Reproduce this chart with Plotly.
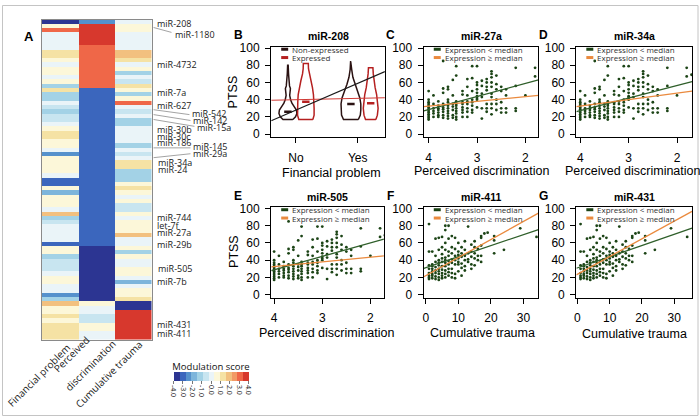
import plotly.graph_objects as go

W, H = 700, 420
def X(p): return p / W
def Y(p): return 1 - p / H

# ---------------- Heatmap (panel A) data: modulation scores, 75 miRNA rows ----------------
fin_problem = [-4, 0.5, 3.2, -0.2, -0.2, -0.2, -0.2, 1.3, 1.3, 0.5,
               -0.2, 0.5, 0.5, -0.2, 0.5, -1.5, 1.0, -1.3, -1.3, -0.2,
               -0.8, -1.5, -0.8, -0.7, -0.2, 0.5, 1.2, 1.2, 0.5, 0.5,
               -0.2, -2.3, 0.5, 0.5, 0.5, 0.5, -0.2, -3.0, -3.0, 0.5,
               -2.0, 0.5, 0.5, 0.5, -0.2, 1.8, -1.2, -0.8, -0.2, -0.2,
               -0.2, -0.2, -3.0, 0.5, 0.5, -1.2, -0.8, -0.8, -0.8, -0.2,
               0.5, 0.5, -0.2, -0.2, -2.5, -1.2, 1.8, 0.5, 0.5, 1.0,
               0.5, 1.0, 1.2, 1.2, 1.2]
perceived_disc = ([-2.2] + [3.8] * 5 + [3.2] * 10 + [-3.0] * 37 + [-4.0] * 13 +
                  [0.5, -0.2, -0.2, -0.8, -0.8, 0.5, 0.5, -0.2, -0.2])
cumulative_trauma = [-0.2, 0.5, 0.5, -0.2, -0.2, -0.2, -0.2, 1.8, 1.8, 1.0,
                     -0.2, 0.5, -1.0, -0.2, -0.8, 1.0, 0.5, -1.0, 0.5, 3.2,
                     -0.2, -0.8, -0.2, -1.2, -1.3, -0.2, -0.2, -0.2, -0.2, -1.0,
                     -0.2, -0.8, -0.2, 1.2, 1.2, -1.0, -1.3, -1.3, 0.5, 1.0,
                     0.5, -0.2, 0.5, -0.8, -0.8, 0.5, -0.2, 0.5, 0.5, 0.5,
                     1.8, -0.2, -0.2, 0.5, -1.0, 0.5, -0.2, -0.2, 0.5, 0.5,
                     -0.2, -1.8, -0.2, 0.5, 0.5, 1.0, -4, -4, 3.8, 3.8,
                     3.8, 3.8, 3.8, 3.8, 3.8]
hm_columns = ["Financial problem", "Perceived discrimination", "Cumulative trauma"]
cbar_ticks = [-4, -3, -2, -1, 0, 1, 2, 3, 4]

mir_labels = ["miR-208", "miR-1180", "miR-4732", "miR-7a", "miR-627", "miR-542", "miR-142",
              "miR-15a", "miR-30b", "miR-30c", "miR-186", "miR-145", "miR-29a", "miR-34a",
              "miR-24", "miR-744", "let-7f", "miR-27a", "miR-29b", "miR-505", "miR-7b",
              "miR-431", "miR-411"]

# ---------------- Panel B: violins (PTSS by financial problem) ----------------
fin_cats = ["No", "Yes"]
viol_groups = ["Non-expressed", "Expressed", "Non-expressed", "Expressed"]
viol_pos = [0.87, 1.16, 1.89, 2.21]
viol_levels = [
    [17, 20, 24, 28, 32, 36, 40, 45, 50, 53, 56, 62, 70, 80],
    [17, 22, 30, 38, 46, 54, 62, 70, 76, 82],
    [17, 22, 28, 35, 42, 50, 58, 66, 75, 85],
    [17, 22, 30, 38, 46, 54, 62, 70, 77],
]
viol_density = [
    [0.55, 0.85, 1.0, 0.95, 0.7, 0.45, 0.3, 0.2, 0.25, 0.28, 0.18, 0.1, 0.07, 0.03],
    [0.85, 1.0, 1.0, 0.97, 0.92, 0.8, 0.6, 0.4, 0.32, 0.3],
    [0.75, 0.95, 1.0, 1.0, 0.9, 0.65, 0.4, 0.2, 0.08, 0.03],
    [0.7, 0.9, 1.0, 0.95, 0.8, 0.6, 0.45, 0.35, 0.3],
]
viol_halfwidth = [0.145, 0.134, 0.16, 0.12]
viol_median = [26, 37.5, 35, 36]
fitB = {"Non-expressed": (-3.0, 31.0), "Expressed": (38.5, 1.5)}

# ---------------- Panels C, D, E: PTSS vs perceived discrimination ----------------
pd_levels = [4.0, 3.9, 3.8, 3.7, 3.6, 3.5, 3.43, 3.3, 3.2, 3.1, 3.0, 2.9, 2.8, 2.7,
             2.6, 2.5, 2.4, 2.2, 2.0, 1.8, 1.7]
pd_ptss = [
    [50, 40, 37, 35, 33, 31, 29, 27, 25, 23, 21, 19, 17],
    [45, 35, 30, 27, 24, 20],
    [38, 33, 30, 28, 25, 22, 20],
    [85, 53, 48, 35, 31, 29, 26, 22, 19],
    [55, 52, 40, 37, 33, 30, 27, 24, 21, 18],
    [63, 45, 35, 32, 28, 22, 19],
    [79, 68, 38, 35, 33, 30, 27, 24, 20, 17],
    [50, 46, 37, 35, 31, 28, 25, 20],
    [64, 55, 45, 38, 35, 30, 26, 20],
    [79, 65, 50, 40, 37, 33, 28, 25],
    [79, 60, 57, 52, 48, 44, 42, 40, 31],
    [62, 56, 47, 43, 30, 18],
    [64, 60, 55, 51, 35, 30, 26],
    [73, 70, 66, 60, 55, 47, 43, 35, 30, 23],
    [68, 58, 52, 40, 35, 28],
    [55, 50, 37, 30, 25],
    [52, 45, 30, 25],
    [77, 56, 30, 27],
    [45],
    [67, 77],
    [69],
]
# ---------------- Panels F, G: PTSS vs cumulative trauma ----------------
ct_levels = [1, 2, 3, 4, 5, 6, 7, 8, 9, 10, 11, 12, 13, 14, 15, 16, 17, 18, 19, 21, 24, 29, 34]
ct_ptss = [
    [82, 50, 34, 30, 25, 22, 20, 18],
    [50, 35, 33, 30, 27, 24, 22, 19],
    [65, 45, 38, 32, 28, 25, 21, 18],
    [66, 52, 40, 37, 34, 30, 27, 24, 20, 17],
    [67, 55, 47, 42, 38, 33, 29, 25, 22, 19],
    [80, 75, 60, 52, 43, 40, 37, 33, 28, 24, 20],
    [80, 65, 50, 45, 39, 35, 30, 26, 22],
    [68, 55, 48, 41, 37, 30, 25, 20],
    [66, 53, 45, 40, 35, 24, 19],
    [60, 50, 46, 42, 38, 35, 27],
    [55, 48, 44, 36, 31, 22],
    [62, 52, 45, 40, 33, 28],
    [79, 48, 41, 38],
    [58, 50, 44, 35, 30],
    [62, 55, 48, 42, 34],
    [53, 45, 40],
    [68, 66, 57, 45, 38],
    [71],
    [72],
    [68, 63, 48],
    [52],
    [77],
    [67],
]
# regression fits (intercept, slope) for expression < median / >= median
fits = {
    "C": ((89.3, -15.2), (54.5, -5.5)),
    "D": ((85.6, -14.6), (62.6, -7.5)),
    "E": ((91.5, -15.7), (54.2, -5.4)),
    "F": ((31.3, 1.28), (22.0, 2.10)),
    "G": ((31.0, 1.30), (23.6, 2.06)),
}
panel_titles = {"B": "miR-208", "C": "miR-27a", "D": "miR-34a", "E": "miR-505", "F": "miR-411", "G": "miR-431"}

# ---------------- style ----------------
hm_colors = ["#2c3592", "#3b66bd", "#5591cc", "#7db5db", "#a3d2e6", "#c8e5f0", "#eaf4f8",
             "#fcf7d9", "#f5e2a4", "#f2c07f", "#f29a66", "#ef6748", "#d7382d"]
colorscale = []
nb = len(hm_colors)
for i, c in enumerate(hm_colors):
    colorscale.append([i / nb, c])
    colorscale.append([(i + 1) / nb, c])

GREEN_PT = "#1c4416"
GREEN_LN = "#2f5f2a"
ORANGE = "#ea8a3e"
NE_COL = "#2a1212"
EX_COL = "#b52020"
TICKFONT = dict(family="Liberation Sans, Arial", size=12, color="black")

geom = {
    "B": (270, 384, 42.7, 135), "C": (423, 538, 42.7, 135), "D": (576, 692, 42.7, 135),
    "E": (270, 383, 206.7, 299), "F": (423, 538, 206.7, 299), "G": (576, 692, 206.7, 299),
}
xranges = {"B": [0.6, 2.44], "C": [4.1, 1.73], "D": [4.08, 1.69], "E": [4.06, 1.72],
           "F": [-0.6, 34.6], "G": [-0.3, 35.5]}

fig = go.Figure()
layout = dict(width=W, height=H, margin=dict(l=0, r=0, t=0, b=0),
              paper_bgcolor="white", plot_bgcolor="white", showlegend=False)

# ---- heatmap
z = [[fin_problem[i], perceived_disc[i], cumulative_trauma[i]] for i in range(len(fin_problem))]
fig.add_trace(go.Heatmap(
    z=z, x=[0, 1, 2], y=list(range(len(fin_problem))), zmin=-4, zmax=4,
    colorscale=colorscale, xaxis="x", yaxis="y", hoverinfo="skip",
    colorbar=dict(orientation="h", x=X(172), xanchor="left", y=Y(362), yanchor="top",
                  lenmode="pixels", len=75, thicknessmode="pixels", thickness=9,
                  title=dict(text="Modulation score", side="top",
                             font=dict(family="Open Sans", size=9.5, color="#111")),
                  tickvals=cbar_ticks, ticktext=[f"{t:.1f}" for t in cbar_ticks],
                  tickangle=90, ticks="outside", ticklen=3, tickcolor="#777",
                  tickfont=dict(family="Open Sans", size=7, color="#222"),
                  outlinewidth=0, xpad=0, ypad=0)))
layout["xaxis"] = dict(domain=[X(40), X(150)], range=[-0.5, 2.5], showticklabels=False,
                       ticks="", showgrid=False, zeroline=False, showline=True, mirror=True,
                       linecolor="#8a8a8a", linewidth=1, anchor="y")
layout["yaxis"] = dict(domain=[Y(342), Y(15)], range=[len(fin_problem) - 0.5, -0.5],
                       showticklabels=False, ticks="", showgrid=False, zeroline=False,
                       showline=True, mirror=True, linecolor="#8a8a8a", linewidth=1, anchor="x")

ann = []
shapes = []
LBL = dict(family="Open Sans", size=9, color="#1a1a1a")
label_pos = [(153, 19), (171, 30), (153, 61), (153, 89), (153, 103), (189, 111), (190, 118),
             (194, 125), (153, 127), (153, 134), (153, 141), (190, 145), (190, 152), (154, 161),
             (154, 168), (153, 217), (153, 225), (153, 232), (153, 245), (154, 269), (153, 283),
             (153, 327), (153, 336)]
for t, (lx, ly) in zip(mir_labels, label_pos):
    ann.append(dict(text=t, x=X(lx), y=Y(ly), xref="paper", yref="paper", showarrow=False,
                    xanchor="left", yanchor="middle", font=LBL))
for (x0, y0, x1, y1) in [(152, 23, 170, 28), (152, 107, 188, 112), (152, 112, 189, 118),
                         (152, 117, 193, 124), (152, 146, 189, 146), (152, 156, 189, 152)]:
    shapes.append(dict(type="line", xref="paper", yref="paper", x0=X(x0), y0=Y(y0), x1=X(x1), y1=Y(y1),
                       line=dict(color="#8c8c8c", width=0.8)))
COLF = dict(family="Open Sans", size=10, color="#1a1a1a")
for t, (cx, cy) in [("Financial problem", (37, 378)), ("Perceived", (70, 357)),
                    ("discrimination", (89, 368)), ("Cumulative trauma", (107, 377))]:
    ann.append(dict(text=t, x=X(cx), y=Y(cy), xref="paper", yref="paper", showarrow=False,
                    textangle=-45, xanchor="center", yanchor="middle", font=COLF))
ann.append(dict(text="<b>A</b>", x=X(27), y=Y(32), xref="paper", yref="paper", showarrow=False,
                xanchor="center", yanchor="middle",
                font=dict(family="Liberation Sans, Arial", size=13, color="black")))

# ---- panels
keys = ["B", "C", "D", "E", "F", "G"]
for i, k in enumerate(keys):
    n = i + 2
    x0, x1, y0, y1 = geom[k]
    ax = dict(domain=[X(x0), X(x1)], range=xranges[k], showgrid=False, zeroline=False,
              showline=True, mirror=True, linecolor="black", linewidth=1.4,
              ticks="outside", ticklen=5, tickwidth=1, tickcolor="black", tickfont=TICKFONT,
              ticklabelstandoff=4, anchor=f"y{n}")
    if k == "B":
        ax.update(tickvals=[1, 2], ticktext=fin_cats)
    elif k in ("C", "D", "E"):
        ax.update(tickvals=[4, 3, 2])
    else:
        ax.update(tickvals=[0, 10, 20, 30])
    ay = dict(domain=[Y(y1), Y(y0)], range=[-3.5, 101.5], tickvals=[0, 20, 40, 60, 80, 100],
              showgrid=False, zeroline=False, showline=True, mirror=True, linecolor="black",
              linewidth=1.4, ticks="outside", ticklen=5, tickwidth=1, tickcolor="black",
              tickfont=TICKFONT, ticklabelstandoff=3, anchor=f"x{n}")
    layout[f"xaxis{n}"] = ax
    layout[f"yaxis{n}"] = ay
    xa, ya = f"x{n}", f"y{n}"
    xr = xranges[k]
    if k == "B":
        for g, c, lv, dn, hw, md in zip(viol_groups, viol_pos, viol_levels, viol_density,
                                        viol_halfwidth, viol_median):
            col = NE_COL if g == "Non-expressed" else EX_COL
            xs = [c + hw * d for d in dn] + [c - hw * d for d in reversed(dn)] + [c + hw * dn[0]]
            ys = list(lv) + list(reversed(lv)) + [lv[0]]
            fig.add_trace(go.Scatter(x=xs, y=ys, mode="lines", line=dict(color=col, width=1.5),
                                     xaxis=xa, yaxis=ya, hoverinfo="skip"))
            fig.add_trace(go.Scatter(x=[c - 0.06, c + 0.06], y=[md, md], mode="lines",
                                     line=dict(color=col, width=2.5), xaxis=xa, yaxis=ya,
                                     hoverinfo="skip"))
        for g, col in [("Expressed", "#d03a35"), ("Non-expressed", "#1a1a1a")]:
            a, b = fitB[g]
            fig.add_trace(go.Scatter(x=xr, y=[a + b * v for v in xr], mode="lines",
                                     line=dict(color=col, width=1.1), xaxis=xa, yaxis=ya,
                                     hoverinfo="skip"))
        leg = [("Non-expressed", NE_COL), ("Expressed", EX_COL)]
    else:
        if k in ("C", "D", "E"):
            lv, pt = pd_levels, pd_ptss
        else:
            lv, pt = ct_levels, ct_ptss
        xs, ys = [], []
        for v, ps in zip(lv, pt):
            for p in ps:
                xs.append(v)
                ys.append(p)
        fig.add_trace(go.Scatter(x=xs, y=ys, mode="markers",
                                 marker=dict(color=GREEN_PT, size=2.8, symbol="circle"),
                                 xaxis=xa, yaxis=ya, hoverinfo="skip"))
        (a1, b1), (a2, b2) = fits[k]
        fig.add_trace(go.Scatter(x=xr, y=[a1 + b1 * v for v in xr], mode="lines",
                                 line=dict(color=GREEN_LN, width=1.3), xaxis=xa, yaxis=ya,
                                 hoverinfo="skip"))
        fig.add_trace(go.Scatter(x=xr, y=[a2 + b2 * v for v in xr], mode="lines",
                                 line=dict(color=ORANGE, width=1.3), xaxis=xa, yaxis=ya,
                                 hoverinfo="skip"))
        leg = [("Expression < median", GREEN_PT), ("Expression \u2265 median", ORANGE)]
    # legend inside box (top-left)
    ly0 = y0 + 2.5
    for j, (t, col) in enumerate(leg):
        yy = ly0 + j * 8.5
        shapes.append(dict(type="line", xref="paper", yref="paper", x0=X(x0 + 10), x1=X(x0 + 17),
                           y0=Y(yy), y1=Y(yy), line=dict(color=col, width=3)))
        ann.append(dict(text=t, x=X(x0 + 19), y=Y(yy), xref="paper", yref="paper", showarrow=False,
                        xanchor="left", yanchor="middle",
                        font=dict(family="Open Sans", size=8, color="#333")))
    # title and panel letter
    cx = (x0 + x1) / 2
    ann.append(dict(text=f"<b>{panel_titles[k]}</b>", x=X(cx), y=Y(y0 - 11), xref="paper",
                    yref="paper", showarrow=False, xanchor="center", yanchor="middle",
                    font=dict(family="Liberation Sans, Arial", size=10.5, color="black")))
    ann.append(dict(text=f"<b>{k}</b>", x=X(x0 - 33), y=Y(y0 - 12), xref="paper", yref="paper",
                    showarrow=False, xanchor="center", yanchor="middle",
                    font=dict(family="Liberation Sans, Arial", size=12, color="black")))

xtitles = {"B": ("Financial problem", 330, 172), "C": ("Perceived discrimination", 481, 170),
           "D": ("Perceived discrimination", 633, 170), "E": ("Perceived discrimination", 326, 335),
           "F": ("Cumulative trauma", 482, 335), "G": ("Cumulative trauma", 634, 336)}
for k, (t, cx, cy) in xtitles.items():
    ann.append(dict(text=t, x=X(cx), y=Y(cy), xref="paper", yref="paper", showarrow=False,
                    xanchor="center", yanchor="middle",
                    font=dict(family="Liberation Sans, Arial", size=12.5, color="black")))
for cy in (89, 252):
    ann.append(dict(text="PTSS", x=X(232), y=Y(cy), xref="paper", yref="paper", showarrow=False,
                    textangle=-90, xanchor="center", yanchor="middle",
                    font=dict(family="Liberation Sans, Arial", size=12.5, color="black")))

shapes.append(dict(type="rect", xref="paper", yref="paper", x0=X(0.5), x1=X(698), y0=Y(419.5),
                   y1=Y(0.5), line=dict(color="#c4c4c4", width=1), layer="below"))

layout["annotations"] = ann
layout["shapes"] = shapes
fig.update_layout(**layout)
fig.write_html("out.html")
